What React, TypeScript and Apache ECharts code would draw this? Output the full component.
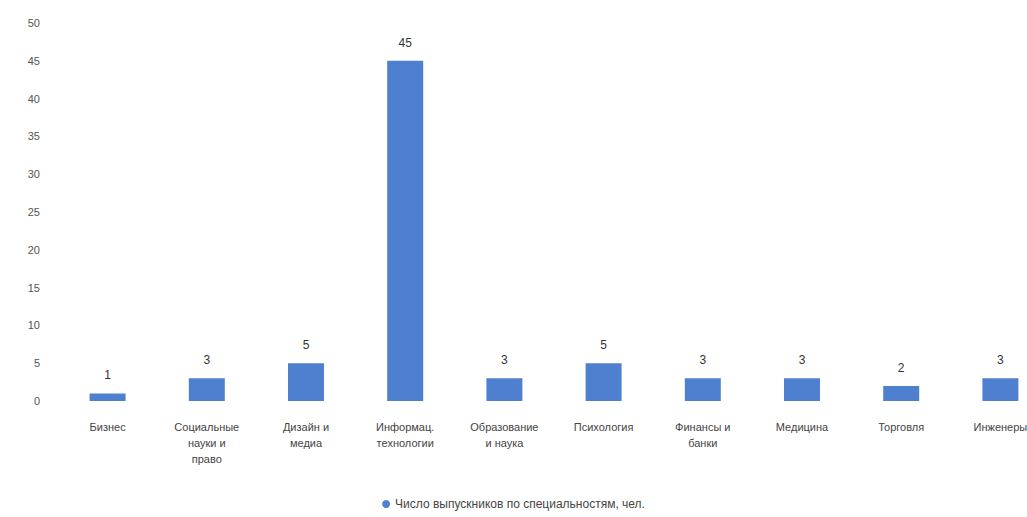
import React, { useEffect, useRef } from "react";
import * as echarts from "echarts";

const categories = [
  "Бизнес",
  "Социальные\nнауки и\nправо",
  "Дизайн и\nмедиа",
  "Информац.\nтехнологии",
  "Образование\nи наука",
  "Психология",
  "Финансы и\nбанки",
  "Медицина",
  "Торговля",
  "Инженеры",
];
const values = [1, 3, 5, 45, 3, 5, 3, 3, 2, 3];
const seriesName = "Число выпускников по специальностям, чел.";
const yMax = 50;
const yInterval = 5;

export default function App() {
  const ref = useRef<HTMLDivElement>(null);
  useEffect(() => {
    if (!ref.current) return;
    const chart = echarts.init(ref.current, undefined, { renderer: "svg" });
    chart.setOption({
      animation: false,
      backgroundColor: "#ffffff",
      textStyle: { fontFamily: "Liberation Sans, Arial, sans-serif" },
      grid: {
        left: 58,
        width: 992,
        top: 23,
        bottom: 116,
        containLabel: false,
        outerBoundsMode: "none",
      },
      legend: {
        bottom: 2,
        left: "center",
        icon: "circle",
        itemWidth: 8,
        itemHeight: 8,
        textStyle: { color: "#444", fontSize: 12 },
        data: [seriesName],
      },
      xAxis: {
        type: "category",
        data: categories,
        axisLine: { show: false },
        axisTick: { show: false },
        axisLabel: {
          interval: 0,
          color: "#444",
          fontSize: 11,
          lineHeight: 16,
          margin: 18,
        },
      },
      yAxis: {
        type: "value",
        min: 0,
        max: yMax,
        interval: yInterval,
        axisLine: { show: false },
        axisTick: { show: false },
        splitLine: { show: false },
        axisLabel: { color: "#555", fontSize: 11, margin: 18 },
      },
      series: [
        {
          name: seriesName,
          type: "bar",
          data: values,
          barWidth: 36,
          itemStyle: { color: "#4e80cf" },
          label: {
            show: true,
            position: "top",
            distance: 12,
            color: "#333",
            fontSize: 12,
          },
        },
      ],
    });
    return () => chart.dispose();
  }, []);
  return (
    <div
      ref={ref}
      style={{ position: "fixed", left: 0, top: 0, width: 1027, height: 517 }}
    />
  );
}
